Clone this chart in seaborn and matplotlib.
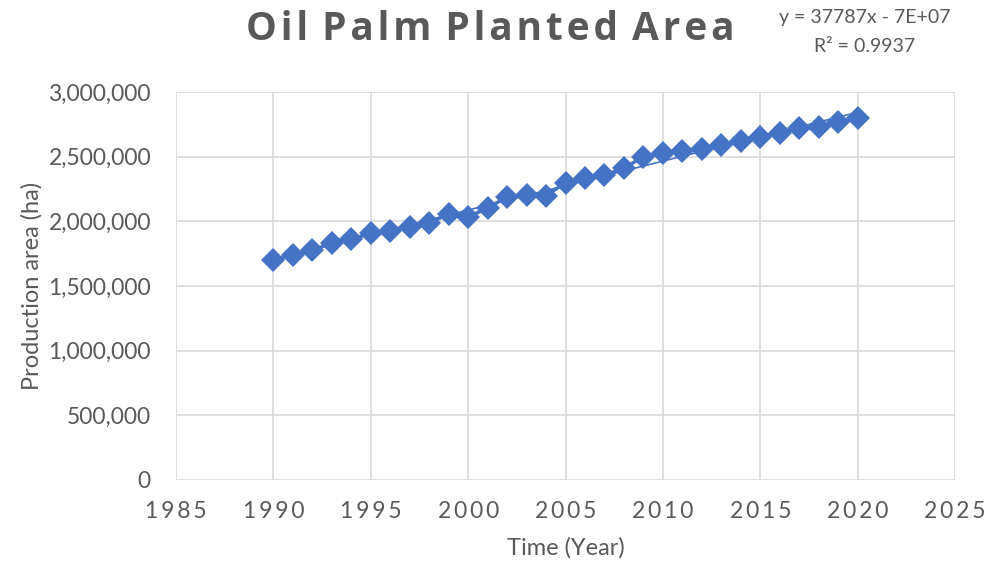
import matplotlib
matplotlib.use("Agg")
import matplotlib.pyplot as plt
import seaborn as sns
import numpy as np
import pandas as pd
from matplotlib.ticker import FuncFormatter, MultipleLocator

years = list(range(1990, 2021))
area = [1701000, 1740000, 1778000, 1830000, 1861000, 1907000, 1925000, 1959000,
        1990000, 2054000, 2036000, 2101000, 2190000, 2204000, 2198000, 2299000,
        2337000, 2358000, 2410000, 2500000, 2526000, 2547000, 2557000, 2590000,
        2621000, 2655000, 2680000, 2719000, 2727000, 2770000, 2797000]
title = "Oil Palm Planted Area"
eq_text = "y = 37787x - 7E+07"
r2_text = "R² = 0.9937"
xlabel = "Time (Year)"
ylabel = "Production area (ha)"

df = pd.DataFrame({"year": years, "area": area})

sns.set_theme(style="white")
plt.rcParams['font.family'] = ['Lato', 'DejaVu Sans']

blue = "#4472C4"
grey = "#595959"

fig = plt.figure(figsize=(10, 5.67), dpi=100)
ax = fig.add_axes([0.176, 1 - 480/567, (955-176)/1000, (480-92)/567])

sns.regplot(data=df, x="year", y="area", ax=ax, ci=None, scatter=False,
            truncate=True, line_kws=dict(color=blue, lw=1.2, zorder=2))
sns.lineplot(data=df, x="year", y="area", ax=ax, color=blue, lw=2.5,
             marker="D", markersize=12.5, markeredgewidth=0, zorder=3)

ax.set_xlim(1985, 2025)
ax.set_ylim(0, 3000000)
ax.xaxis.set_major_locator(MultipleLocator(5))
ax.yaxis.set_major_locator(MultipleLocator(500000))
hs = "\u200a"
ts = "\u2009"
ax.xaxis.set_major_formatter(FuncFormatter(lambda v, p: ts.join(f"{int(v)}")))
ax.yaxis.set_major_formatter(FuncFormatter(lambda v, p: f"{int(v):,}"))
ax.grid(True, color="#D9D9D9", lw=1.2)
for s in ax.spines.values():
    s.set_visible(False)
ax.tick_params(axis="both", length=0, labelsize=16.5, labelcolor=grey)
ax.tick_params(axis="y", pad=18)
ax.tick_params(axis="x", pad=15)
ax.set_xlabel(xlabel, fontsize=17, color=grey, labelpad=11)
ax.set_ylabel(ylabel, fontsize=17, color=grey, labelpad=4)

spaced_title = (" " + hs).join(hs.join(w) for w in title.split(" "))
fig.text(0.49, 1 - 30/567, spaced_title,
         ha="center", va="center", fontsize=28, fontweight="bold", color=grey,
         family=["Open Sans", "DejaVu Sans"])
fig.text(0.865, 1 - 18/567, eq_text, ha="center", va="center", fontsize=14, color=grey)
fig.text(0.865, 1 - 46/567, r2_text, ha="center", va="center", fontsize=14, color=grey)

fig.savefig("out.png", dpi=100)
